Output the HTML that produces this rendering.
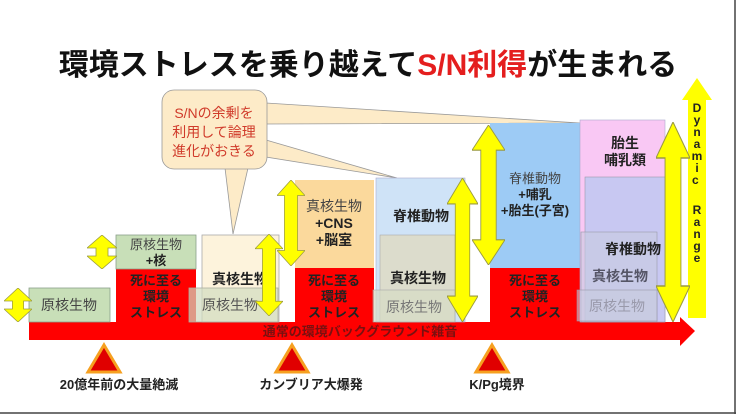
<!DOCTYPE html>
<html><head><meta charset="utf-8"><style>
html,body{margin:0;padding:0;background:#fff;}
svg{display:block;font-family:"Liberation Sans","Noto Sans CJK JP",sans-serif;}
</style></head><body>
<svg width="736" height="414" viewBox="0 0 736 414" xmlns="http://www.w3.org/2000/svg">
<defs>
<symbol id="da" viewBox="0 0 30 100" preserveAspectRatio="none">
<polygon points="15,0 30,18 22,18 22,82 30,82 15,100 0,82 8,82 8,18 0,18" fill="#ffff00" stroke="#9a9a40" stroke-width="0.8"/>
</symbol>
<symbol id="ds" viewBox="0 0 30 34" preserveAspectRatio="none">
<polygon points="15,0 30,13 21,13 21,21 30,21 15,34 0,21 9,21 9,13 0,13" fill="#ffff00" stroke="#9a9a40" stroke-width="0.8"/>
</symbol>
</defs>
<rect x="0" y="0" width="736" height="414" fill="#fff"/>
<line x1="735" y1="0" x2="735" y2="414" stroke="#444" stroke-width="1.5"/>
<line x1="0" y1="413" x2="736" y2="413" stroke="#444" stroke-width="1.5"/>

<text x="368" y="75" font-size="30" font-weight="bold" text-anchor="middle" fill="#111">環境ストレスを乗り越えて<tspan fill="#e41e1e">S/N利得</tspan>が生まれる</text>

<polygon points="697,78 712,100 706,100 706,318 688,318 688,100 682,100" fill="#ffff00"/>
<text font-size="12" font-weight="bold" fill="#222" text-anchor="middle">
<tspan x="697" y="112">D</tspan><tspan x="697" y="124">y</tspan><tspan x="697" y="136">n</tspan><tspan x="697" y="148">a</tspan><tspan x="697" y="160">m</tspan><tspan x="697" y="172">i</tspan><tspan x="697" y="184">c</tspan>
<tspan x="697" y="214">R</tspan><tspan x="697" y="226">a</tspan><tspan x="697" y="238">n</tspan><tspan x="697" y="250">g</tspan><tspan x="697" y="262">e</tspan></text>

<polygon points="225,168 248,168 233,234" fill="#fdebc8" stroke="#999" stroke-width="0.8"/>
<polygon points="266,140 397,178 266,157" fill="#fdebc8" stroke="#999" stroke-width="0.8"/>
<polygon points="266,103 580,123 266,124" fill="#fdebc8" stroke="#999" stroke-width="0.8"/>

<polygon points="29,322 680,322 680,317 695,331 680,346 680,340 29,340" fill="#ff0000"/>

<rect x="29" y="288" width="81" height="34" fill="#c8dfb8" stroke="#8aa08a" stroke-width="0.8"/>
<text x="69" y="310" font-size="14" text-anchor="middle" fill="#444">原核生物</text>
<use href="#ds" x="4" y="288" width="28" height="34"/>

<rect x="116" y="269" width="80" height="53" fill="#ff0000"/>
<rect x="116" y="235" width="80" height="34" fill="#c8dfb8" stroke="#8aa08a" stroke-width="0.8"/>
<text x="156" y="249" font-size="13" text-anchor="middle" fill="#444">原核生物</text>
<text x="156" y="265" font-size="13" font-weight="bold" text-anchor="middle" fill="#222">+核</text>
<text font-size="13" font-weight="bold" text-anchor="middle" fill="#222"><tspan x="156" y="285">死に至る</tspan><tspan x="156" y="301">環境</tspan><tspan x="156" y="317">ストレス</tspan></text>
<use href="#ds" x="87" y="235" width="30" height="34"/>

<rect x="202" y="235" width="77" height="87" fill="#fdf3dc" stroke="#aaa" stroke-width="0.8"/>
<text x="240" y="284" font-size="14" font-weight="bold" text-anchor="middle" fill="#222">真核生物</text>
<rect x="189" y="288" width="89" height="34" fill="#d0dcbf" fill-opacity="0.7" stroke="#aab0a0" stroke-width="0.8"/>
<text x="230" y="310" font-size="14" text-anchor="middle" fill="#555">原核生物</text>
<use href="#da" x="255" y="234" width="28" height="82"/>

<rect x="295" y="268" width="79" height="54" fill="#ff0000"/>
<rect x="295" y="180" width="79" height="88" fill="#fbd99c"/>
<text x="334" y="211" font-size="14" text-anchor="middle" fill="#444">真核生物</text>
<text x="334" y="228" font-size="14" font-weight="bold" text-anchor="middle" fill="#222">+CNS</text>
<text x="334" y="245" font-size="14" font-weight="bold" text-anchor="middle" fill="#222">+脳室</text>
<text font-size="13" font-weight="bold" text-anchor="middle" fill="#222"><tspan x="334" y="285">死に至る</tspan><tspan x="334" y="301">環境</tspan><tspan x="334" y="317">ストレス</tspan></text>
<use href="#da" x="277" y="180" width="28" height="86"/>

<rect x="376" y="178" width="89" height="144" fill="#cfe3f7" stroke="#aac" stroke-width="0.6"/>
<text x="421" y="221" font-size="14" font-weight="bold" text-anchor="middle" fill="#222">脊椎動物</text>
<rect x="380" y="235" width="75" height="87" fill="#dcdccc" stroke="#aaa" stroke-width="0.6"/>
<text x="418" y="283" font-size="14" font-weight="bold" text-anchor="middle" fill="#222">真核生物</text>
<rect x="373" y="290" width="82" height="32" fill="#d6dcc4" fill-opacity="0.7" stroke="#aaa" stroke-width="0.6"/>
<text x="414" y="312" font-size="14" text-anchor="middle" fill="#777">原核生物</text>
<use href="#da" x="447" y="178" width="31" height="144"/>

<rect x="490" y="268" width="90" height="54" fill="#ff0000"/>
<rect x="490" y="123" width="90" height="145" fill="#9dcbf5"/>
<text x="535" y="183" font-size="13" text-anchor="middle" fill="#444">脊椎動物</text>
<text x="535" y="199" font-size="13" font-weight="bold" text-anchor="middle" fill="#222">+哺乳</text>
<text x="535" y="215" font-size="13" font-weight="bold" text-anchor="middle" fill="#222">+胎生(子宮)</text>
<text font-size="13" font-weight="bold" text-anchor="middle" fill="#222"><tspan x="535" y="285">死に至る</tspan><tspan x="535" y="301">環境</tspan><tspan x="535" y="317">ストレス</tspan></text>
<use href="#da" x="472" y="125" width="33" height="140"/>

<rect x="580" y="120" width="85" height="202" fill="#f9c8f4" stroke="#aac" stroke-width="0.6"/>
<text x="625" y="148" font-size="14" font-weight="bold" text-anchor="middle" fill="#222">胎生</text>
<text x="625" y="165" font-size="14" font-weight="bold" text-anchor="middle" fill="#222">哺乳類</text>
<rect x="585" y="177" width="80" height="145" fill="#c8c8f2" stroke="#99a" stroke-width="0.6"/>
<rect x="581" y="232" width="76" height="90" fill="#c8cce0" fill-opacity="0.6" stroke="#99a" stroke-width="0.6"/>
<text x="633" y="254" font-size="14" font-weight="bold" text-anchor="middle" fill="#222">脊椎動物</text>
<text x="620" y="281" font-size="14" font-weight="bold" text-anchor="middle" fill="#556">真核生物</text>
<rect x="577" y="290" width="80" height="31" fill="#c8cce0" fill-opacity="0.6" stroke="#99a" stroke-width="0.6"/>
<text x="617" y="311" font-size="14" text-anchor="middle" fill="#99a">原核生物</text>
<use href="#da" x="656" y="122" width="34" height="200"/>

<rect x="162" y="90" width="105" height="79" rx="12" fill="#fdebc8" stroke="#999" stroke-width="0.8"/>
<text font-size="14" text-anchor="middle" fill="#d03a2a"><tspan x="214" y="118">S/Nの余剰を</tspan><tspan x="214" y="137">利用して論理</tspan><tspan x="214" y="156">進化がおきる</tspan></text>

<text x="360" y="336" font-size="13" font-weight="bold" text-anchor="middle" fill="#7a1010">通常の環境バックグラウンド雑音</text>

<polygon points="104,345 120,372 88,372" fill="#e00000" stroke="#f6a020" stroke-width="3"/>
<polygon points="292,345 308,372 276,372" fill="#e00000" stroke="#f6a020" stroke-width="3"/>
<polygon points="492,345 508,372 476,372" fill="#e00000" stroke="#f6a020" stroke-width="3"/>
<text x="119" y="389" font-size="13" font-weight="bold" text-anchor="middle" fill="#222">20億年前の大量絶滅</text>
<text x="311" y="389" font-size="13" font-weight="bold" text-anchor="middle" fill="#222">カンブリア大爆発</text>
<text x="497" y="389" font-size="13" font-weight="bold" text-anchor="middle" fill="#222">K/Pg境界</text>
</svg>
</body></html>
